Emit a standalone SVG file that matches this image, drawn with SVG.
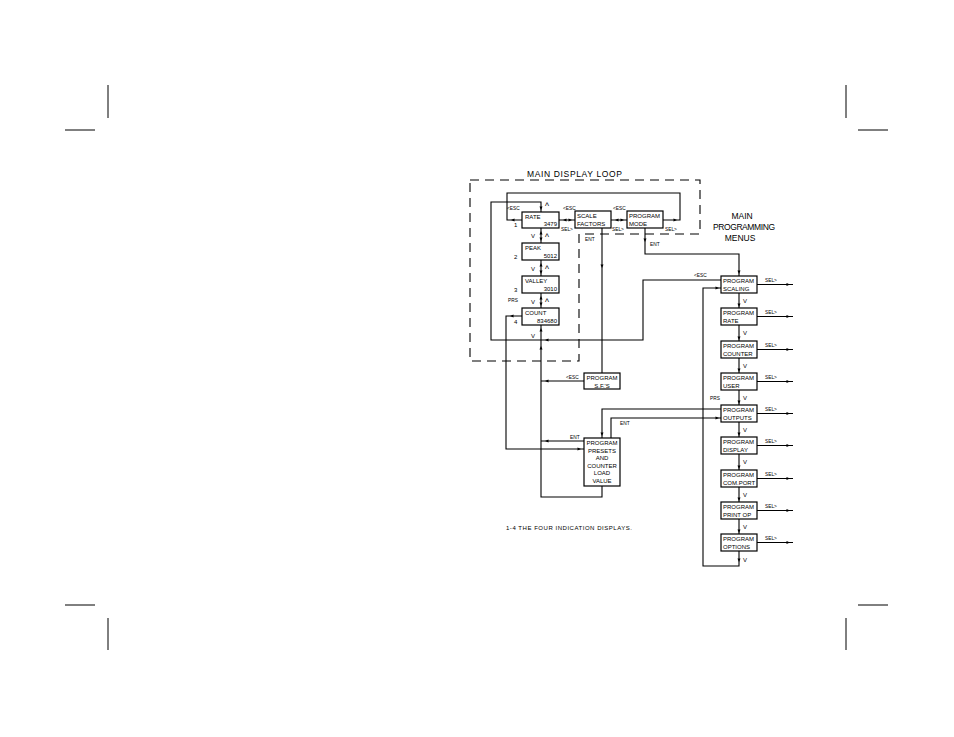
<svg xmlns="http://www.w3.org/2000/svg" xmlns:xlink="http://www.w3.org/1999/xlink" width="954" height="737" viewBox="0 0 954 737">
<style>
.ln{fill:none;stroke:#000;stroke-width:1.1}
.bx{fill:#fff;stroke:#000;stroke-width:1.2}
.dash{fill:none;stroke:#000;stroke-width:1.1;stroke-dasharray:9 6}
.crop{fill:none;stroke:#000;stroke-width:1}
text{font-family:"Liberation Sans",Arial,sans-serif;fill:#000}
.t{font-size:6px}
.s{font-size:4.8px}
.up{font-size:8.5px}
.m{text-anchor:middle}
.e{text-anchor:end}
.big{font-size:8.5px}
</style>
<defs><path id="ah" d="M0,0 L-3.5,-1.5 L-3.5,1.5 Z" fill="#000"/></defs>
<rect width="954" height="737" fill="#fff"/>
<g id="cropmarks">
<path class="crop" d="M108,85V118M65,130H95M846,85V118M858,130H888M65,605H95M108,618V650M858,605H888M846,618V650"/>
</g>
<g id="loop-frame">
<path class="dash" d="M470,180H700V234H579V361H470Z"/>
<text class="big" x="527" y="177" textLength="95" lengthAdjust="spacing">MAIN DISPLAY LOOP</text>
</g>
<g id="connectors">
<path class="ln" d="M663,220H680V193H507V220H522"/>
<path class="ln" d="M559,220H575M611,220H627"/>
<path class="ln" d="M541,228V243M541,260V276M541,293V308"/>
<path class="ln" d="M541,325V497H602V486"/>
<path class="ln" d="M721,280H643V340H491V202H541V212"/>
<path class="ln" d="M522,316H506V449H584"/>
<path class="ln" d="M602,228V373M584,381H541M584,441H541"/>
<path class="ln" d="M645,228V254H739V276"/>
<path class="ln" d="M739,293V308M739,325V341M739,358V373M739,390V405M739,422V437M739,454V470M739,487V502M739,519V534"/>
<path class="ln" d="M739,551V566H703V288H721"/>
<path class="ln" d="M721,409H602V438M611,438V418H721"/>
<path class="ln" d="M757,284.5H793M757,316.5H793M757,349.5H793M757,381.5H793M757,413.5H793M757,445.5H793M757,478.5H793M757,510.5H793M757,542.5H793"/>
<g id="arrowheads">
<use xlink:href="#ah" transform="translate(511,220) rotate(180)"/>
<use xlink:href="#ah" transform="translate(677,220)"/>
<use xlink:href="#ah" transform="translate(563,220) rotate(180)"/>
<use xlink:href="#ah" transform="translate(572,220)"/>
<use xlink:href="#ah" transform="translate(615,220) rotate(180)"/>
<use xlink:href="#ah" transform="translate(624,220)"/>
<use xlink:href="#ah" transform="translate(541,210) rotate(90)"/>
<use xlink:href="#ah" transform="translate(541,231) rotate(270)"/>
<use xlink:href="#ah" transform="translate(541,241) rotate(90)"/>
<use xlink:href="#ah" transform="translate(541,263) rotate(270)"/>
<use xlink:href="#ah" transform="translate(541,274) rotate(90)"/>
<use xlink:href="#ah" transform="translate(541,296) rotate(270)"/>
<use xlink:href="#ah" transform="translate(541,306) rotate(90)"/>
<use xlink:href="#ah" transform="translate(541,328) rotate(270)"/>
<use xlink:href="#ah" transform="translate(541,346) rotate(270)"/>
<use xlink:href="#ah" transform="translate(545,340) rotate(180)"/>
<use xlink:href="#ah" transform="translate(510,316) rotate(180)"/>
<use xlink:href="#ah" transform="translate(581,449)"/>
<use xlink:href="#ah" transform="translate(602,268) rotate(90)"/>
<use xlink:href="#ah" transform="translate(545,381) rotate(180)"/>
<use xlink:href="#ah" transform="translate(545,441) rotate(180)"/>
<use xlink:href="#ah" transform="translate(645,242) rotate(90)"/>
<use xlink:href="#ah" transform="translate(739,274) rotate(90)"/>
<use xlink:href="#ah" transform="translate(739,307) rotate(90)"/>
<use xlink:href="#ah" transform="translate(739,340) rotate(90)"/>
<use xlink:href="#ah" transform="translate(739,372) rotate(90)"/>
<use xlink:href="#ah" transform="translate(739,404) rotate(90)"/>
<use xlink:href="#ah" transform="translate(739,436) rotate(90)"/>
<use xlink:href="#ah" transform="translate(739,469) rotate(90)"/>
<use xlink:href="#ah" transform="translate(739,501) rotate(90)"/>
<use xlink:href="#ah" transform="translate(739,533) rotate(90)"/>
<use xlink:href="#ah" transform="translate(739,562) rotate(90)"/>
<use xlink:href="#ah" transform="translate(719,288)"/>
<use xlink:href="#ah" transform="translate(602,436) rotate(90)"/>
<use xlink:href="#ah" transform="translate(719,418)"/>
<use xlink:href="#ah" transform="translate(790,284.5)"/>
<use xlink:href="#ah" transform="translate(790,316.5)"/>
<use xlink:href="#ah" transform="translate(790,349.5)"/>
<use xlink:href="#ah" transform="translate(790,381.5)"/>
<use xlink:href="#ah" transform="translate(790,413.5)"/>
<use xlink:href="#ah" transform="translate(790,445.5)"/>
<use xlink:href="#ah" transform="translate(790,478.5)"/>
<use xlink:href="#ah" transform="translate(790,510.5)"/>
<use xlink:href="#ah" transform="translate(790,542.5)"/>
</g>
<g id="connector-labels">
<text class="s" x="507" y="210">&lt;ESC</text>
<text class="s" x="563" y="210">&lt;ESC</text>
<text class="s" x="613" y="210">&lt;ESC</text>
<text class="s" x="561" y="231">SEL&gt;</text>
<text class="s" x="612" y="231">SEL&gt;</text>
<text class="s" x="665" y="231">SEL&gt;</text>
<text class="s" x="585" y="241">ENT</text>
<text class="s" x="650" y="246">ENT</text>
<text class="s" x="694" y="277">&lt;ESC</text>
<text class="s" x="566" y="379">&lt;ESC</text>
<text class="s" x="570" y="439">ENT</text>
<text class="s" x="620" y="425">ENT</text>
<text class="s" x="508" y="302">PRS</text>
<text class="s" x="710" y="400">PRS</text>
<text class="up" x="545" y="209">^</text>
<text class="up" x="545" y="240">^</text>
<text class="up" x="545" y="272">^</text>
<text class="up" x="545" y="305">^</text>
<text class="t" x="531" y="238">V</text>
<text class="t" x="531" y="271">V</text>
<text class="t" x="531" y="304">V</text>
<text class="t" x="531" y="338">V</text>
<text class="t" x="514" y="227">1</text>
<text class="t" x="514" y="259">2</text>
<text class="t" x="514" y="292">3</text>
<text class="t" x="514" y="324">4</text>
<text class="t" x="743" y="303">V</text>
<text class="t" x="743" y="335">V</text>
<text class="t" x="743" y="368">V</text>
<text class="t" x="743" y="400">V</text>
<text class="t" x="743" y="432">V</text>
<text class="t" x="743" y="464">V</text>
<text class="t" x="743" y="497">V</text>
<text class="t" x="743" y="529">V</text>
<text class="t" x="743" y="562">V</text>
<text class="s" x="765" y="282">SEL&gt;</text>
<text class="s" x="765" y="314">SEL&gt;</text>
<text class="s" x="765" y="347">SEL&gt;</text>
<text class="s" x="765" y="379">SEL&gt;</text>
<text class="s" x="765" y="411">SEL&gt;</text>
<text class="s" x="765" y="443">SEL&gt;</text>
<text class="s" x="765" y="476">SEL&gt;</text>
<text class="s" x="765" y="508">SEL&gt;</text>
<text class="s" x="765" y="540">SEL&gt;</text>
</g>
</g>
<g id="rate"><rect class="bx" x="522" y="212" width="37" height="16"/><text class="t" x="525" y="218.5">RATE</text><text class="t e" x="557" y="226">3479</text></g>
<g id="peak"><rect class="bx" x="522" y="243" width="37" height="17"/><text class="t" x="525" y="249.5">PEAK</text><text class="t e" x="557" y="258">5012</text></g>
<g id="valley"><rect class="bx" x="522" y="276" width="37" height="17"/><text class="t" x="525" y="282.5">VALLEY</text><text class="t e" x="557" y="291">3010</text></g>
<g id="count"><rect class="bx" x="522" y="308" width="37" height="17"/><text class="t" x="525" y="314.5">COUNT</text><text class="t e" x="557" y="323">834680</text></g>
<g id="scale-factors"><rect class="bx" x="575" y="211" width="36" height="17"/><text class="t" x="577" y="218">SCALE</text><text class="t" x="577" y="226">FACTORS</text></g>
<g id="program-mode"><rect class="bx" x="627" y="211" width="36" height="17"/><text class="t" x="629" y="218">PROGRAM</text><text class="t" x="629" y="226">MODE</text></g>
<g id="program-sfs"><rect class="bx" x="584" y="373" width="36" height="16"/><text class="t m" x="602" y="380">PROGRAM</text><text class="t m" x="602" y="387.5">S.F.'S</text></g>
<g id="program-presets"><rect class="bx" x="584" y="438" width="36" height="48"/>
<text class="t m" x="602" y="445">PROGRAM</text><text class="t m" x="602" y="452.5">PRESETS</text><text class="t m" x="602" y="460">AND</text><text class="t m" x="602" y="467.5">COUNTER</text><text class="t m" x="602" y="475">LOAD</text><text class="t m" x="602" y="482.5">VALUE</text></g>
<g id="main-programming-menus"><text class="big m" x="742" y="219">MAIN</text><text class="big m" x="744" y="230" textLength="62" lengthAdjust="spacing">PROGRAMMING</text><text class="big m" x="740" y="241">MENUS</text></g>
<g id="prog-scaling"><rect class="bx" x="721" y="276" width="36" height="17"/><text class="t" x="723" y="283">PROGRAM</text><text class="t" x="723" y="291">SCALING</text></g>
<g id="prog-rate"><rect class="bx" x="721" y="308" width="36" height="17"/><text class="t" x="723" y="315">PROGRAM</text><text class="t" x="723" y="323">RATE</text></g>
<g id="prog-counter"><rect class="bx" x="721" y="341" width="36" height="17"/><text class="t" x="723" y="348">PROGRAM</text><text class="t" x="723" y="356">COUNTER</text></g>
<g id="prog-user"><rect class="bx" x="721" y="373" width="36" height="17"/><text class="t" x="723" y="380">PROGRAM</text><text class="t" x="723" y="388">USER</text></g>
<g id="prog-outputs"><rect class="bx" x="721" y="405" width="36" height="17"/><text class="t" x="723" y="412">PROGRAM</text><text class="t" x="723" y="420">OUTPUTS</text></g>
<g id="prog-display"><rect class="bx" x="721" y="437" width="36" height="17"/><text class="t" x="723" y="444">PROGRAM</text><text class="t" x="723" y="452">DISPLAY</text></g>
<g id="prog-comport"><rect class="bx" x="721" y="470" width="36" height="17"/><text class="t" x="723" y="477">PROGRAM</text><text class="t" x="723" y="485">COM.PORT</text></g>
<g id="prog-printop"><rect class="bx" x="721" y="502" width="36" height="17"/><text class="t" x="723" y="509">PROGRAM</text><text class="t" x="723" y="517">PRINT OP</text></g>
<g id="prog-options"><rect class="bx" x="721" y="534" width="36" height="17"/><text class="t" x="723" y="541">PROGRAM</text><text class="t" x="723" y="549">OPTIONS</text></g>
<g id="footnote"><text class="t" x="506" y="530" textLength="126" lengthAdjust="spacing">1-4 THE FOUR INDICATION DISPLAYS.</text></g>
</svg>
